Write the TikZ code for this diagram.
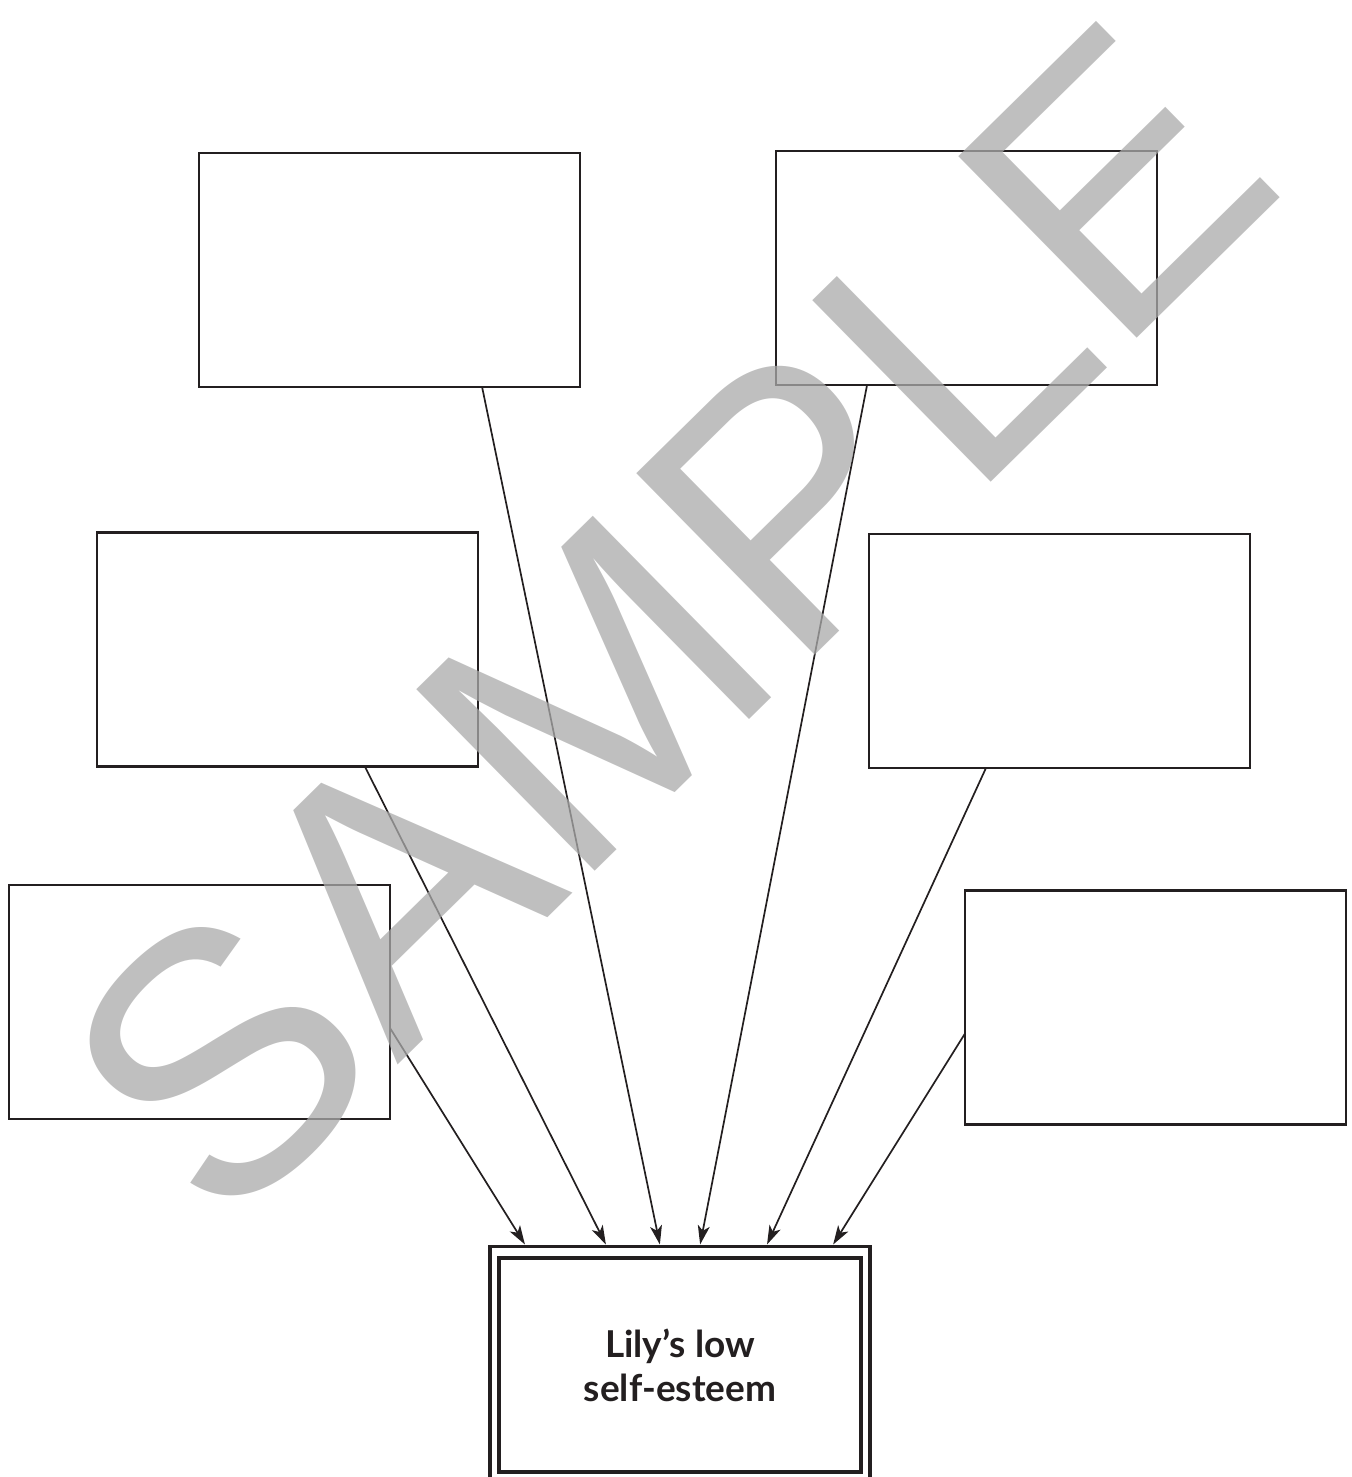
\documentclass[tikz,border=0pt]{standalone}
\usepackage{fontspec}
\setmainfont{Lato}
\newfontfamily\wmfont{Liberation Sans}
\usetikzlibrary{arrows.meta,calc}
\definecolor{ink}{RGB}{35,31,32}
\definecolor{wm}{gray}{0.667}
\begin{document}
\begin{tikzpicture}[x=0.5pt,y=-0.5pt,
  box/.style={draw=ink, line width=1.2pt, minimum width=190.5pt, minimum height=117pt, inner sep=0pt, outer sep=0pt},
  conn/.style={draw=ink, line width=0.85pt, -{Stealth[length=9.5pt,width=6pt,inset=2.5pt]}},
  frame/.style={draw=ink, line width=1.6pt, inner sep=0pt, outer sep=0pt},
]
\useasboundingbox (0,0) rectangle (1351,1477);
\node[box] (b1) at (389.5,270) {};
\node[box] (b2) at (966.5,268) {};
\node[box] (b3) at (287.5,649.5) {};
\node[box] (b4) at (1059.5,651) {};
\node[box] (b5) at (199.5,1002) {};
\node[box] (b6) at (1155.5,1007.5) {};
\node[frame, minimum width=190pt, minimum height=126.75pt] (outer) at (680,1373.25) {};
\node[frame, line width=2.2pt, minimum width=181pt, minimum height=107pt, align=center,
      font=\fontsize{18.5}{22}\selectfont\bfseries, text=ink] (goal) at (680,1365) {Lily’s low\\self-esteem};
\draw[conn] ($(b5.north east)!0.611!(b5.south east)$) -- ($(outer.north west)!0.092!(outer.north east)+(0,-2)$);
\draw[conn] ($(b3.south west)!0.703!(b3.south east)$) -- ($(outer.north west)!0.305!(outer.north east)+(0,-2)$);
\draw[conn] ($(b1.south west)!0.743!(b1.south east)$) -- ($(outer.north west)!0.447!(outer.north east)+(0,-2)$);
\draw[conn] ($(b2.south west)!0.239!(b2.south east)$) -- ($(outer.north west)!0.553!(outer.north east)+(0,-2)$);
\draw[conn] ($(b4.south west)!0.307!(b4.south east)$) -- ($(outer.north west)!0.729!(outer.north east)+(0,-2)$);
\draw[conn] ($(b6.north west)!0.611!(b6.south west)$) -- ($(outer.north west)!0.903!(outer.north east)+(0,-2)$);
\node[font=\wmfont\fontsize{185}{190}\selectfont, text=wm, text opacity=0.75, rotate=44.5, anchor=base west, inner sep=0pt] (sample) at (221,1239) {SAMPLE};
\end{tikzpicture}
\end{document}
